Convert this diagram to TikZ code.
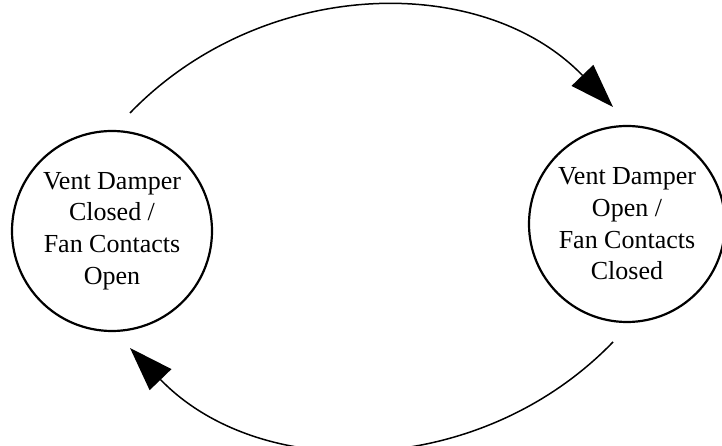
\documentclass[tikz,border=0pt]{standalone}
\usepackage{fontspec}
\setmainfont{Liberation Serif}
\usetikzlibrary{arrows.meta}
\begin{document}
\begin{tikzpicture}[x=1pt,y=1pt,
  state/.style={circle,draw,line width=2.2pt,inner sep=0pt,align=center,
    font=\fontsize{26}{31.7}\selectfont},
  trans/.style={line width=1.5pt,-{Triangle[length=44pt,width=30pt]}}]
\useasboundingbox (0,0) rectangle (722,446);
\node[state,minimum size=200pt] (L) at (112,215) {Vent Damper\\Closed /\\Fan Contacts\\Open};
\node[state,minimum size=196pt] (R) at (627,222) {Vent Damper\\Open /\\Fan Contacts\\Closed};
\coordinate (a1) at (130,333);
\coordinate (a2) at (613,339);
\coordinate (b1) at (613,104);
\coordinate (b2) at (130,98);
\draw[trans] (a1) to[out=46,in=134] (a2);
\draw[trans] (b1) to[out=226,in=314] (b2);
\end{tikzpicture}
\end{document}
